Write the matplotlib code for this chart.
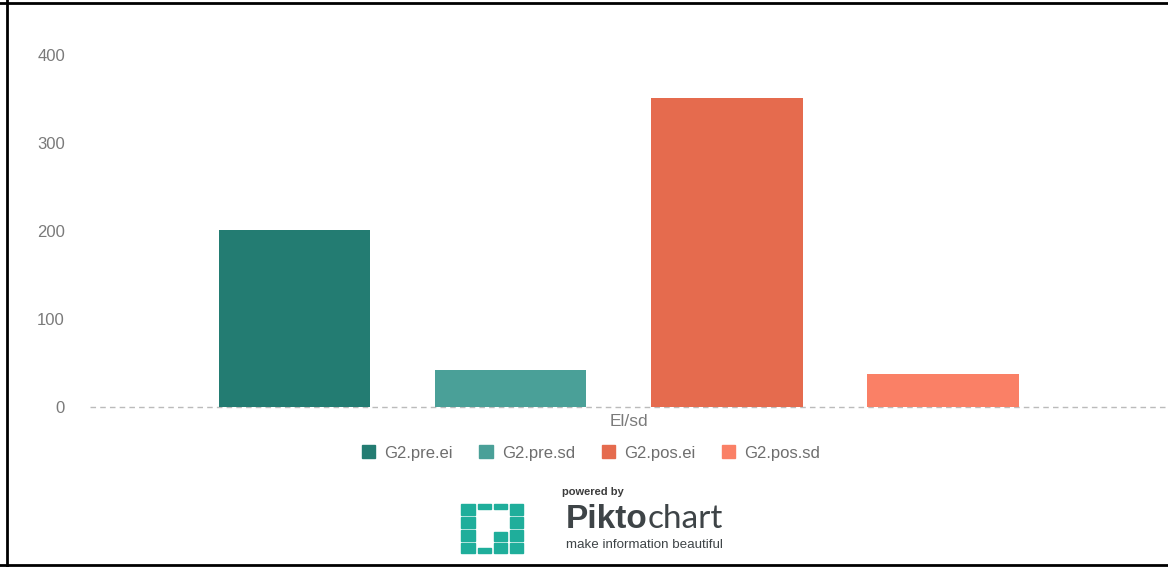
import matplotlib.pyplot as plt
from matplotlib.patches import Rectangle
from matplotlib.lines import Line2D

plt.rcParams['font.family'] = ['Liberation Sans', 'DejaVu Sans']

# data
series = ['G2.pre.ei', 'G2.pre.sd', 'G2.pos.ei', 'G2.pos.sd']
values = [201, 42, 351, 38]
colors = ['#237C72', '#4AA098', '#E56B4E', '#FA8066']
yticks = [0, 100, 200, 300, 400]
category = 'El/sd'

W, H = 1168, 567
fig = plt.figure(figsize=(W / 100, H / 100), dpi=100)

# axes in pixel units: left 90, right 1168, y=0 at 407, y=400 at 55
y0_px, y400_px = 407, 55
px_per_unit = (y0_px - y400_px) / 400.0
ytop = 420
ax_top_px = y0_px - ytop * px_per_unit
ax = fig.add_axes([90 / W, 1 - y0_px / H, (1168 - 90) / W, (y0_px - ax_top_px) / H])

x = list(range(len(values)))
ax.bar(x, values, width=0.7, color=colors, zorder=2)
ax.set_xlim(-0.945, 4.04)
ax.set_ylim(0, ytop)
ax.axhline(0, color='#BBBBBB', lw=1.0, ls=(0, (4, 3)), zorder=1, clip_on=False)

for s in ax.spines.values():
    s.set_visible(False)
ax.set_xticks([])
ax.set_yticks(yticks)
ax.set_yticklabels([str(t) for t in yticks], color='#7A7A7A', fontsize=12)
ax.tick_params(axis='y', length=0, pad=18)

# category label under axis
fig.text(629 / W, 1 - 422 / H, category, ha='center', va='center',
         color='#7A7A7A', fontsize=12.5)

# legend
handles = [Rectangle((0, 0), 1, 1, color=c) for c in colors]
fig.legend(handles, series, loc='center', bbox_to_anchor=(591 / W, 1 - 453 / H),
           ncol=4, frameon=False, fontsize=12, handlelength=0.8, handleheight=0.8,
           handletextpad=0.55, columnspacing=1.6, labelcolor='#6E6E6E')

# powered by piktochart badge
fig.text(593 / W, 1 - 492 / H, 'powered by', ha='center', va='center',
         fontsize=8, fontweight='bold', color='#3C3C3C')
pikto = fig.text(566 / W, 1 - 519 / H, 'Pikto', ha='left', va='center',
                 fontsize=24, fontweight='bold', color='#3E4447')
fig.canvas.draw()
bb = pikto.get_window_extent()
fig.text(bb.x1 / W, 1 - 519 / H, 'chart', ha='left', va='center',
         fontsize=24, color='#3E4447', family=['Lato', 'Liberation Sans'])
fig.text(566 / W, 1 - 545 / H, 'make information beautiful', ha='left', va='center',
         fontsize=9.6, color='#3E4447')

teal = '#1FAE9B'
# (x, y, w, h) in pixels of the little P-grid logo
cells = [(461, 504, 14, 11), (461, 517, 14, 11), (461, 530, 14, 11), (461, 543, 14, 10),
         (478, 504, 13, 5), (494, 504, 13, 5), (510, 504, 13, 11),
         (510, 517, 13, 11), (510, 530, 13, 11), (510, 543, 13, 10),
         (494, 532, 13, 9), (494, 543, 13, 10), (478, 548, 13, 5)]
for cx, cy, w, h in cells:
    fig.patches.append(Rectangle((cx / W, 1 - (cy + h) / H), w / W, h / H,
                                 transform=fig.transFigure, color=teal, zorder=3))

# frame lines (left, top, bottom)
for xs, ys in [([7 / W, 7 / W], [0, 1]), ([0, 1], [1 - 3 / H, 1 - 3 / H]),
               ([0, 1], [1 - 565 / H, 1 - 565 / H])]:
    fig.lines.append(Line2D(xs, ys, transform=fig.transFigure, color='black', lw=2))

fig.savefig('out.png', dpi=100)
